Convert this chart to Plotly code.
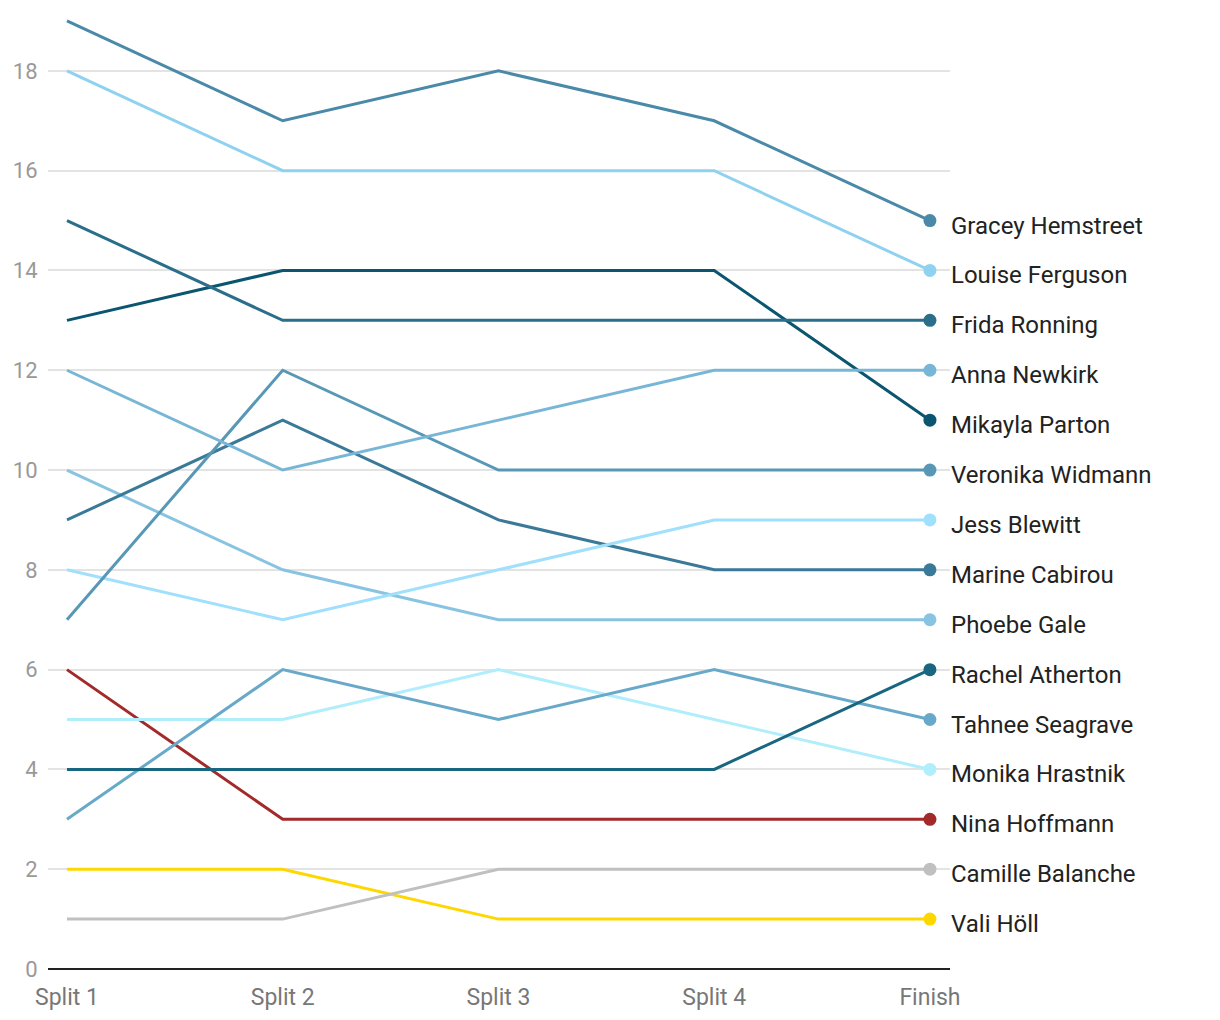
import plotly.graph_objects as go

stages = ["Split 1", "Split 2", "Split 3", "Split 4", "Finish"]

riders = ["Gracey Hemstreet", "Louise Ferguson", "Frida Ronning", "Anna Newkirk",
          "Mikayla Parton", "Veronika Widmann", "Jess Blewitt", "Marine Cabirou",
          "Phoebe Gale", "Rachel Atherton", "Tahnee Seagrave", "Monika Hrastnik",
          "Nina Hoffmann", "Camille Balanche", "Vali Höll"]

gracey = [19, 17, 18, 17, 15]
louise = [18, 16, 16, 16, 14]
frida = [15, 13, 13, 13, 13]
anna = [12, 10, 11, 12, 12]
mikayla = [13, 14, 14, 14, 11]
veronika = [7, 12, 10, 10, 10]
jess = [8, 7, 8, 9, 9]
marine = [9, 11, 9, 8, 8]
phoebe = [10, 8, 7, 7, 7]
rachel = [4, 4, 4, 4, 6]
tahnee = [3, 6, 5, 6, 5]
monika = [5, 5, 6, 5, 4]
nina = [6, 3, 3, 3, 3]
camille = [1, 1, 2, 2, 2]
vali = [2, 2, 1, 1, 1]

series = [gracey, louise, frida, anna, mikayla, veronika, jess, marine,
          phoebe, rachel, tahnee, monika, nina, camille, vali]

colors = ["#4a8aa8", "#8fd2f0", "#2a6e8a", "#78b6d6", "#0a5570", "#5898b6",
          "#a0e0fc", "#3a7a98", "#88c4e2", "#186680", "#68a8c8", "#b0eefc",
          "#a32a2a", "#c0c0c0", "#ffd700"]

fig = go.Figure()
for name, vals, col in reversed(list(zip(riders, series, colors))):
    fig.add_trace(go.Scatter(
        x=stages, y=vals, mode="lines", name=name,
        line=dict(color=col, width=3), showlegend=False, hoverinfo="skip"))
    fig.add_trace(go.Scatter(
        x=[stages[-1]], y=[vals[-1]], mode="markers",
        marker=dict(color=col, size=13), showlegend=False, hoverinfo="skip",
        cliponaxis=False))
    fig.add_annotation(x=stages[-1], y=vals[-1], text=name, showarrow=False,
                       xanchor="left", yanchor="middle", xshift=19, yshift=-5,
                       font=dict(family="Roboto", size=24, color="#222222"))

fig.update_layout(
    width=1204, height=1004,
    margin=dict(l=40, r=262, t=3, b=43),
    paper_bgcolor="white", plot_bgcolor="white",
    font=dict(family="Roboto"),
    xaxis=dict(range=[-0.088, 4.093], showgrid=False, zeroline=False,
               showline=False, automargin=False,
               tickfont=dict(size=23, color="#777777"),
               ticks="outside", ticklen=7, tickcolor="rgba(0,0,0,0)"),
    yaxis=dict(range=[0, 19.2], tickvals=list(range(0, 19, 2)),
               showgrid=True, gridcolor="#e3e3e3", gridwidth=1.5,
               zeroline=True, zerolinecolor="#222222", zerolinewidth=2,
               automargin=False,
               tickfont=dict(size=22, color="#999999"),
               ticks="outside", ticklen=5, tickcolor="rgba(0,0,0,0)"),
)

fig.write_html("out.html")
